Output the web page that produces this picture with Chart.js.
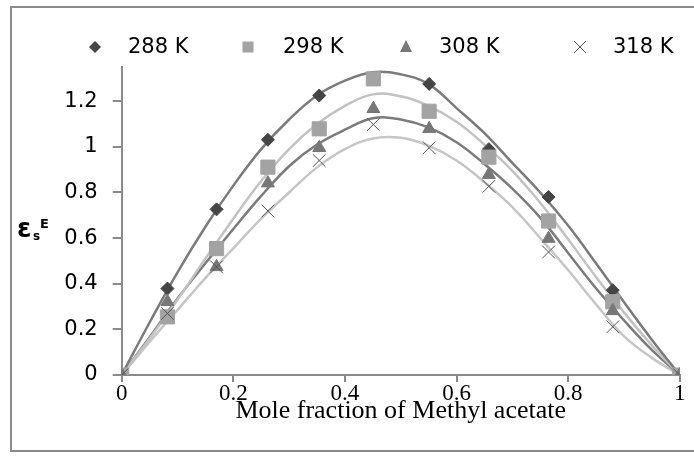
<!DOCTYPE html>
<html>
<head>
<meta charset="utf-8">
<script src="https://cdn.jsdelivr.net/npm/chart.js@4.4.1/dist/chart.umd.min.js"></script>
<style>
html,body{margin:0;padding:0;background:#fff;}
#c{display:block;}
</style>
</head>
<body>
<canvas id="c" width="694" height="456"></canvas>
<script>
// ---- data ----
const molefraction = [0, 0.082, 0.17, 0.262, 0.354, 0.451, 0.551, 0.658, 0.765, 0.88, 1];
const eps288 = [0, 0.379, 0.726, 1.031, 1.225, 1.298, 1.276, 0.99, 0.78, 0.372, 0];
const eps298 = [0, 0.255, 0.554, 0.911, 1.079, 1.298, 1.156, 0.955, 0.675, 0.321, 0];
const eps308 = [0, 0.321, 0.474, 0.841, 0.996, 1.167, 1.079, 0.878, 0.598, 0.281, 0];
const eps318 = [0, 0.27, 0.474, 0.719, 0.94, 1.098, 0.996, 0.827, 0.539, 0.211, 0];

// trend curves
const trendX   = [0, 0.05, 0.1, 0.15, 0.2, 0.25, 0.3, 0.35, 0.4, 0.45, 0.5, 0.55, 0.6, 0.65, 0.7, 0.75, 0.8, 0.85, 0.9, 0.95, 1];
const trend288 = [0, 0.23, 0.45, 0.65, 0.83, 0.99, 1.12, 1.225, 1.29, 1.327, 1.318, 1.275, 1.17, 1.06, 0.93, 0.80, 0.655, 0.49, 0.32, 0.155, 0];
const trend298 = [0, 0.16, 0.33, 0.51, 0.685, 0.85, 0.99, 1.10, 1.18, 1.23, 1.222, 1.18, 1.11, 1.01, 0.895, 0.755, 0.595, 0.43, 0.275, 0.13, 0];
const trend308 = [0, 0.165, 0.335, 0.49, 0.64, 0.785, 0.915, 1.01, 1.075, 1.125, 1.12, 1.085, 1.02, 0.925, 0.817, 0.69, 0.535, 0.38, 0.24, 0.11, 0];
const trend318 = [0, 0.145, 0.285, 0.425, 0.555, 0.685, 0.80, 0.91, 0.99, 1.037, 1.04, 1.005, 0.94, 0.845, 0.736, 0.60, 0.46, 0.31, 0.17, 0.075, 0];

const seriesLabels = ['288 K', '298 K', '308 K', '318 K'];
const xTickValues = [0, 0.2, 0.4, 0.6, 0.8, 1];
const yTickValues = [0, 0.2, 0.4, 0.6, 0.8, 1, 1.2];
const xTitle = 'Mole fraction of Methyl acetate';

// ---- styles ----
const markerStyles = [
  {pointStyle: 'rectRot', radius: 6.5, bg: '#454545', border: '#454545', bw: 1, order: 4},
  {pointStyle: 'rect', radius: 10, bg: '#a3a3a3', border: '#a3a3a3', bw: 1, order: 3},
  {pointStyle: 'triangle', radius: 7.5, bg: '#777777', border: '#777777', bw: 1, order: 2},
  {pointStyle: 'crossRot', radius: 9, bg: '#555555', border: '#555555', bw: 1, order: 1}
];
const curveColors = ['#7b7b7b', '#c2c2c2', '#7b7b7b', '#c6c6c6'];

const seriesValues = [eps288, eps298, eps308, eps318];
const trendValues = [trend288, trend298, trend308, trend318];

function pairs(xs, ys) { return xs.map((x, i) => ({x: x, y: ys[i]})); }

const datasets = [];
trendValues.forEach((ys, i) => {
  datasets.push({
    label: seriesLabels[i] + ' trend',
    isTrend: true,
    data: pairs(trendX, ys),
    showLine: true,
    borderColor: curveColors[i],
    borderWidth: 2.5,
    pointRadius: 0,
    tension: 0.4,
    fill: false,
    order: 10
  });
});
seriesValues.forEach((ys, i) => {
  const m = markerStyles[i];
  datasets.push({
    label: seriesLabels[i],
    data: pairs(molefraction, ys),
    showLine: false,
    pointStyle: m.pointStyle,
    pointRadius: m.radius,
    pointBackgroundColor: m.bg,
    pointBorderColor: m.border,
    pointBorderWidth: m.bw,
    order: m.order
  });
});

function fmt(v) { return String(parseFloat(Number(v).toFixed(2))); }

// frame + y-title + legend plugin
const decor = {
  id: 'decor',
  beforeDraw(chart) {
    const ctx = chart.ctx;
    ctx.save();
    ctx.fillStyle = '#fff';
    ctx.fillRect(0, 0, chart.width, chart.height);
    ctx.strokeStyle = '#8a8a8a';
    ctx.lineWidth = 2;
    ctx.beginPath();
    ctx.moveTo(694, 7); ctx.lineTo(11, 7); ctx.lineTo(11, 451); ctx.lineTo(694, 451);
    ctx.stroke();
    ctx.restore();
  },
  afterDraw(chart) {
    const ctx = chart.ctx;
    ctx.save();
    // y axis title: epsilon_s^E
    ctx.fillStyle = '#000';
    ctx.textBaseline = 'alphabetic';
    ctx.font = 'bold 26px "DejaVu Sans", sans-serif';
    ctx.fillText('\u03b5', 17, 237);
    ctx.font = 'bold 12px "DejaVu Sans", sans-serif';
    ctx.fillText('s', 33, 240);
    ctx.font = 'bold 13px "DejaVu Sans", sans-serif';
    ctx.fillText('E', 40, 228);

    // legend
    const xs = [95, 248, 406, 580];
    const textX = [128, 283, 439, 613];
    const ly = 47;
    ctx.font = '21px "DejaVu Sans", sans-serif';
    ctx.textBaseline = 'middle';
    chart.data.datasets.filter(d => !d.isTrend).forEach((d, i) => {
      const cx = xs[i];
      ctx.fillStyle = d.pointBackgroundColor;
      ctx.strokeStyle = d.pointBorderColor;
      ctx.lineWidth = 1;
      ctx.beginPath();
      if (d.pointStyle === 'rectRot') {
        ctx.moveTo(cx, ly - 6); ctx.lineTo(cx + 6, ly); ctx.lineTo(cx, ly + 6); ctx.lineTo(cx - 6, ly); ctx.closePath(); ctx.fill();
      } else if (d.pointStyle === 'rect') {
        ctx.rect(cx - 5.5, ly - 5.5, 11, 11); ctx.fill();
      } else if (d.pointStyle === 'triangle') {
        ctx.moveTo(cx, ly - 7); ctx.lineTo(cx + 6, ly + 5); ctx.lineTo(cx - 6, ly + 5); ctx.closePath(); ctx.fill();
      } else {
        ctx.moveTo(cx - 6, ly - 6); ctx.lineTo(cx + 6, ly + 6); ctx.moveTo(cx + 6, ly - 6); ctx.lineTo(cx - 6, ly + 6); ctx.stroke();
      }
      ctx.fillStyle = '#000';
      ctx.fillText(d.label, textX[i], ly + 1);
    });
    ctx.restore();
  }
};

new Chart(document.getElementById('c'), {
  type: 'scatter',
  data: {datasets: datasets},
  options: {
    responsive: false,
    devicePixelRatio: 1,
    animation: false,
    layout: {padding: {left: 0, top: 67, right: 14.3, bottom: 29.4}},
    plugins: {legend: {display: false}, tooltip: {enabled: false}},
    scales: {
      x: {
        type: 'linear', min: 0, max: 1,
        afterBuildTicks: s => { s.ticks = xTickValues.map(v => ({value: v})); },
        afterFit: s => { s.height = 51.6; },
        grid: {drawOnChartArea: false, drawTicks: true, tickLength: 7, color: '#8a8a8a', lineWidth: 2},
        border: {color: '#8a8a8a', width: 2},
        ticks: {color: '#000', padding: -2, maxRotation: 0, font: {family: '"Liberation Serif", "Times New Roman", serif', size: 23}, callback: v => fmt(v)},
        title: {display: true, text: xTitle, color: '#000', padding: {top: 0, bottom: 0}, font: {family: '"Liberation Serif", "Times New Roman", serif', size: 26}}
      },
      y: {
        type: 'linear', min: 0, max: 1.35,
        afterBuildTicks: s => { s.ticks = yTickValues.map(v => ({value: v})); },
        afterFit: s => { s.width = 121.7; },
        grid: {drawOnChartArea: false, drawTicks: true, tickLength: 9, color: '#8a8a8a', lineWidth: 2},
        border: {color: '#8a8a8a', width: 2},
        ticks: {color: '#000', padding: 15, font: {family: '"DejaVu Sans", sans-serif', size: 21}, callback: v => fmt(v)}
      }
    }
  },
  plugins: [decor]
});
</script>
</body>
</html>
